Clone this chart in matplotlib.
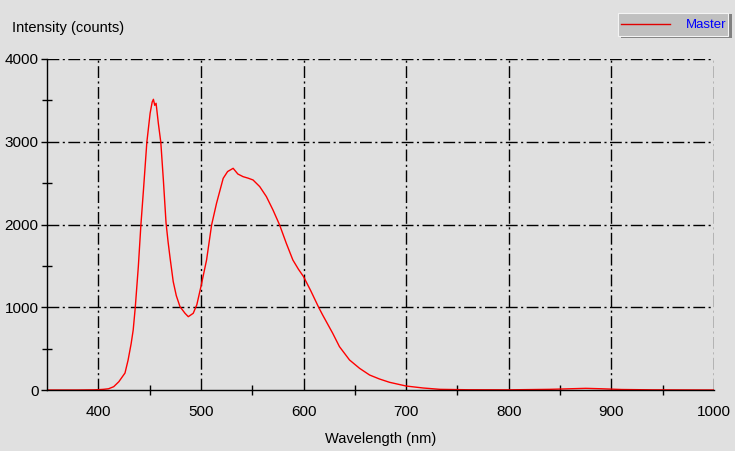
import numpy as np
import matplotlib
matplotlib.use('Agg')
import matplotlib.pyplot as plt
from matplotlib.patches import Rectangle
from matplotlib.lines import Line2D

# spectrum
wavelength = [350, 380, 395, 400, 405, 410, 415, 420, 426, 429, 432, 434, 436,
              439, 441.5, 444, 447.3, 450.5, 452.5, 453.7, 455, 456.3, 458.5,
              460.9, 463.4, 466, 468, 470, 473, 476, 479.6, 484.5, 487.7, 492.5,
              496, 500, 505.5, 510.4, 515.2, 521.7, 526, 531.4, 536, 541.1,
              546, 550.8, 557.3, 563.8, 570.2, 576.7, 583.2, 589.6, 595, 600,
              607, 614.7, 618.6, 628.4, 635, 644.8, 654.6, 664.4, 674, 683.8,
              700, 716.7, 733, 760, 800, 840, 860, 875, 890, 910, 940, 1000]
intensity = [0, 0, 2, 4, 8, 15, 40, 100, 205, 360, 560, 725, 995,
             1491, 1994, 2417, 2994, 3345, 3480, 3513, 3440, 3465, 3223,
             2994, 2538, 2020, 1790, 1590, 1310, 1140, 1007, 927, 886, 927,
             1030, 1249, 1571, 1994, 2256, 2558, 2640, 2679, 2610, 2578,
             2560, 2538, 2458, 2337, 2176, 1994, 1773, 1571, 1460, 1370,
             1200, 1000, 907, 686, 524, 363, 262, 181, 133, 93,
             48, 24, 8, 3, 2, 8, 15, 20, 15, 6, 2, 0]

x_major = [400, 500, 600, 700, 800, 900, 1000]
y_major = [0, 1000, 2000, 3000, 4000]

bg = '#e0e0e0'
font = ['Liberation Sans', 'DejaVu Sans']
plt.rcParams['font.family'] = font

fig = plt.figure(figsize=(7.35, 4.51), dpi=100, facecolor=bg)
ax = fig.add_axes([47 / 735, 61 / 451, 667 / 735, 331 / 451], facecolor=bg)

ax.plot(wavelength, intensity, color='#ff0000', lw=1.0, zorder=3)

ax.set_xlim(350, 1000)
ax.set_ylim(0, 4000)
ax.set_xticks(x_major)
ax.set_yticks(y_major)
ax.set_xticks([450, 550, 650, 750, 850, 950], minor=True)
ax.set_yticks([500, 1500, 2500, 3500], minor=True)

dash = (0, (8.5, 2.5, 1.5, 2.5))
for v in x_major:
    ax.axvline(v, color='black', lw=1.0, ls=dash, zorder=1)
for v in y_major[1:]:
    ax.axhline(v, color='black', lw=1.0, ls=dash, zorder=1)

for side in ['top', 'right']:
    ax.spines[side].set_visible(False)
for side in ['left', 'bottom']:
    ax.spines[side].set_linewidth(1.0)
    ax.spines[side].set_zorder(4)

ax.tick_params(axis='x', which='major', length=0, pad=11, labelsize=11)
ax.tick_params(axis='y', which='major', length=4, width=1, direction='out',
               pad=2, labelsize=11)
ax.tick_params(which='minor', length=7, width=1, direction='inout')

ax.set_xlabel('Wavelength (nm)', fontsize=10.5, labelpad=9)
fig.text(12 / 735, 1 - 28 / 451, 'Intensity (counts)', fontsize=10.5,
         ha='left', va='center')

# legend box like the original widget
fig.patches.append(Rectangle((621 / 735, 1 - 38 / 451), 111 / 735, 24 / 451,
                             transform=fig.transFigure, facecolor='#808080',
                             edgecolor='none'))
fig.patches.append(Rectangle((618 / 735, 1 - 36 / 451), 110 / 735, 23 / 451,
                             transform=fig.transFigure, facecolor='#c0c0c0',
                             edgecolor='#f4f4f4', lw=0.8))
fig.lines.append(Line2D([621 / 735, 670 / 735], [1 - 24 / 451, 1 - 24 / 451],
                        transform=fig.transFigure, color='#e00000', lw=1.0))
fig.text(726 / 735, 1 - 25 / 451, 'Master', color='#0000ff', fontsize=9.5,
         ha='right', va='center')

fig.savefig('out.png', dpi=100, facecolor=bg)
